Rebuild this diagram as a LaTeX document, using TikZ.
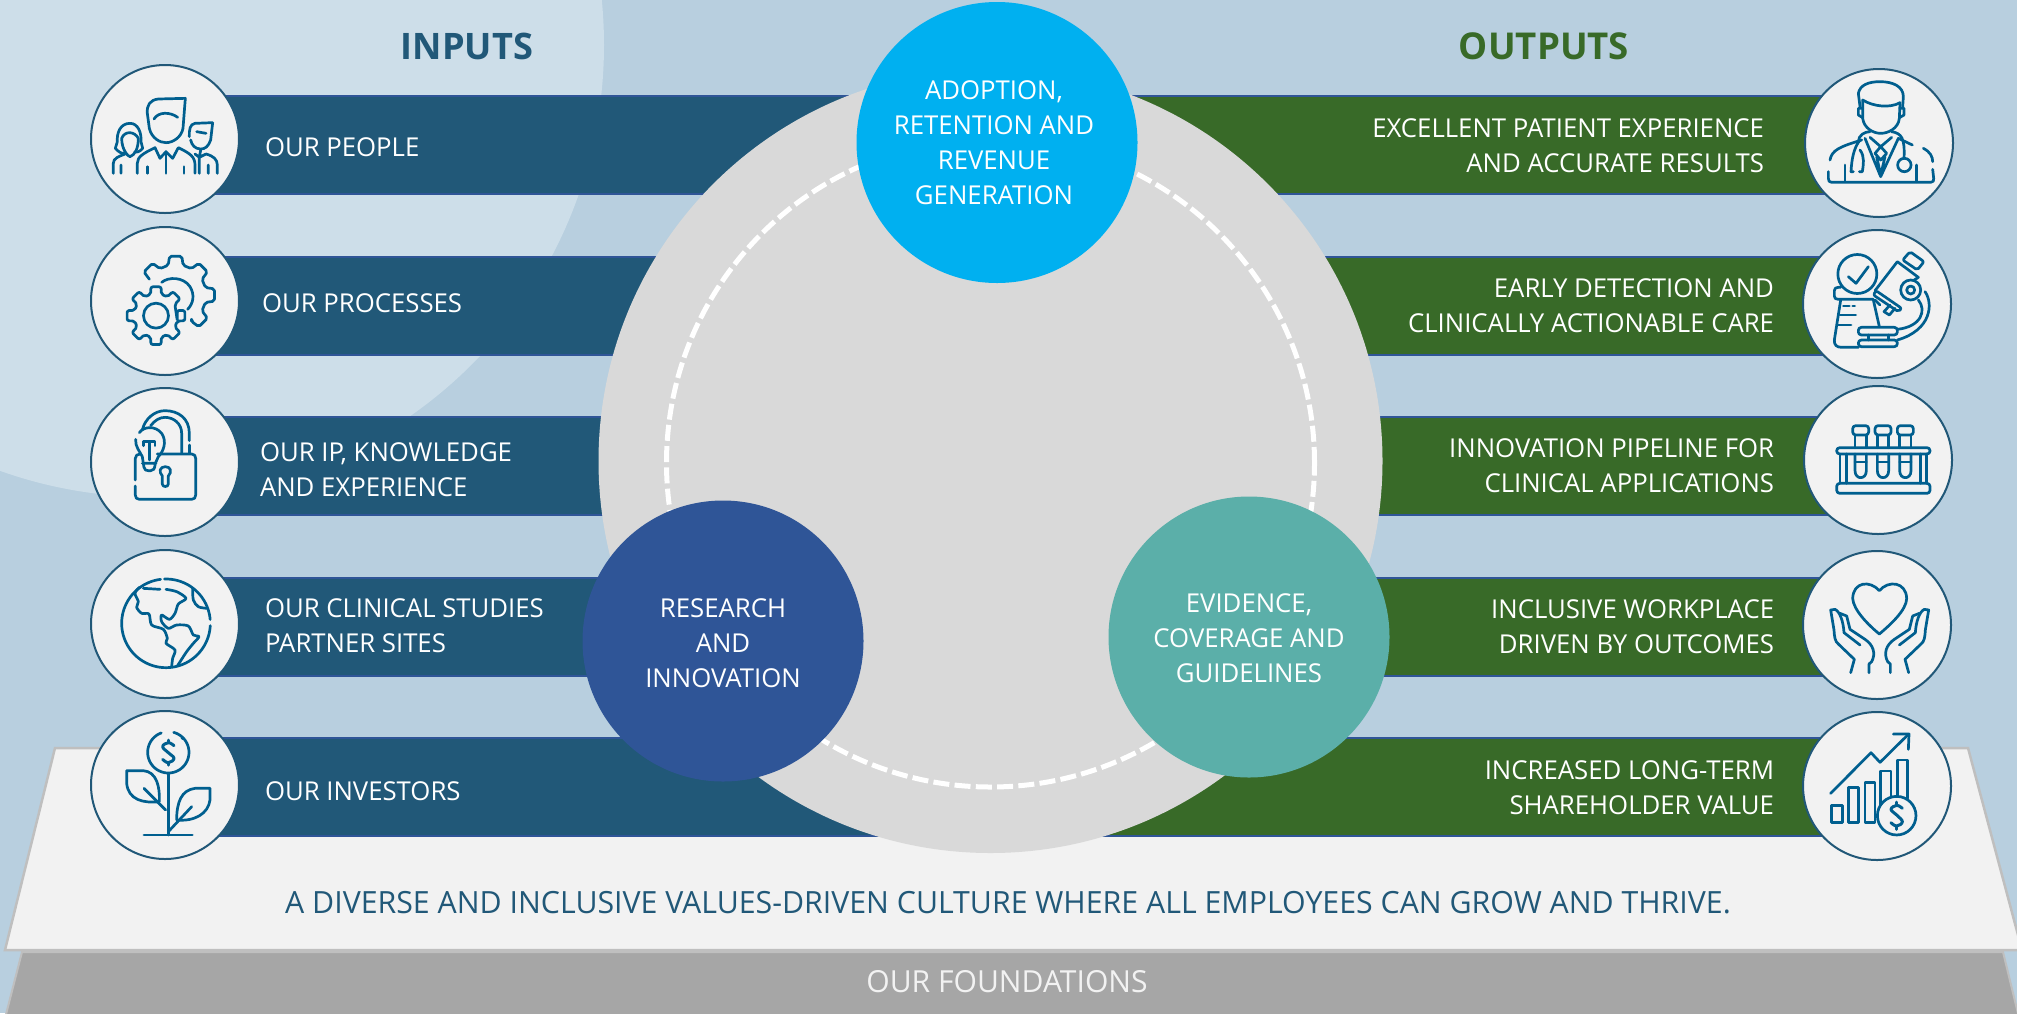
\documentclass[tikz,border=0pt]{standalone}
\usepackage{fontspec}
\setmainfont{Open Sans}[FakeStretch=0.99]
\definecolor{bgblue}{HTML}{B8CFDF}
\definecolor{bglight}{HTML}{CDDEE9}
\definecolor{barblue}{HTML}{215878}
\definecolor{bargreen}{HTML}{386A28}
\definecolor{barline}{HTML}{2F5597}
\definecolor{icon}{HTML}{005F8F}
\definecolor{panel}{HTML}{F2F2F2}
\definecolor{edge}{HTML}{BFBFBF}
\definecolor{grayfoot}{HTML}{A6A6A6}
\definecolor{core}{HTML}{D9D9D9}
\definecolor{adopt}{HTML}{00B0F0}
\definecolor{research}{HTML}{2F5597}
\definecolor{evid}{HTML}{5BAFA9}
\tikzset{
  zm/.style n args={2}{shift={(#1,#2)},x=0.33333pt,y=-0.33333pt},
  ico/.style={draw=icon,line width=2.7pt,line cap=round,line join=round},
  barL/.style={rectangle,inner sep=0pt,outer sep=0pt,anchor=west,fill=barblue,draw=barline,line width=2pt,minimum width=815pt,minimum height=98pt},
  barR/.style={rectangle,inner sep=0pt,outer sep=0pt,anchor=east,fill=bargreen,draw=barline,line width=2pt,minimum width=880pt,minimum height=98pt},
  iconcirc/.style={circle,inner sep=0pt,outer sep=0pt,fill=panel,draw=barblue,line width=2pt,minimum size=148pt},
  hub/.style={circle,inner sep=0pt,outer sep=0pt,minimum size=281pt},
  lbl/.style={inner sep=0pt,outer sep=0pt,text=white,font=\mainfs},
  lblC/.style={lbl,align=center},
  lblL/.style={lbl,anchor=west,align=left},
  lblR/.style={lbl,anchor=east,align=right},
}
\newcommand{\mainfs}{\fontsize{26}{35}\selectfont}
\newcommand{\handshape}{%
  \draw[ico] (182,878)--(193,838)--(145,792) .. controls (135,785) and (133,770) .. (132,750) -- (122,690) -- (135,688) .. controls (150,695) and (160,725) .. (162,758) -- (210,795);
  \draw[ico] (150,700)--(170,708)--(180,748)--(225,778) .. controls (250,795) and (258,820) .. (245,845)--(237,852)--(237,878);
}
\begin{document}
\begin{tikzpicture}[x=1pt,y=-1pt]
\useasboundingbox (0,0) rectangle (2017,1013);
\clip (0,0) rectangle (2017,1013);
\fill[bgblue] (0,0) rectangle (2017,1013);
\fill[bglight] (152,45) circle[radius=452pt];

% foundations
\draw[fill=grayfoot,draw=edge,line width=2pt] (22,952)--(2003,952)--(2022,1030)--(2,1030)--cycle;
\draw[fill=panel,draw=edge,line width=2.5pt] (55,748)--(1968,748)--(2022,950)--(5,950)--cycle;

% bars
\node[barL] (bl1) at (165,145) {};
\node[barL] (bl2) at (165,305.5) {};
\node[barL] (bl3) at (165,465.5) {};
\node[barL] (bl4) at (165,626.5) {};
\node[barL] (bl5) at (165,786.5) {};
\node[barR] (br1) at (1877,145) {};
\node[barR] (br2) at (1877,305.5) {};
\node[barR] (br3) at (1877,466) {};
\node[barR] (br4) at (1877,626.5) {};
\node[barR] (br5) at (1877,786.5) {};

% core
\node[circle,fill=core,inner sep=0pt,minimum size=784pt] (core) at (990.5,461) {};
\draw[white,line width=5pt,dash pattern=on 16pt off 5.3pt] (990.5,463) circle[radius=324pt];
\node[hub,fill=adopt] (hubA) at (997,142.5) {};
\node[hub,fill=research] (hubR) at (723,641) {};
\node[hub,fill=evid] (hubE) at (1249,637) {};
\node[lblC] (tA) at (994,143) {ADOPTION,\\RETENTION AND\\REVENUE\\GENERATION};
\node[lblC] (tR) at (723,643) {RESEARCH\\AND\\INNOVATION};
\node[lblC] (tE) at (1249,638) {EVIDENCE,\\COVERAGE AND\\GUIDELINES};

% icon circles
\node[iconcirc] (cl1) at (165,139) {};
\node[iconcirc] (cl2) at (165,301) {};
\node[iconcirc] (cl3) at (165,462) {};
\node[iconcirc] (cl4) at (165,624) {};
\node[iconcirc] (cl5) at (165,785) {};
\node[iconcirc] (cr1) at (1879,143) {};
\node[iconcirc] (cr2) at (1877,304) {};
\node[iconcirc] (cr3) at (1878,460) {};
\node[iconcirc] (cr4) at (1877,625) {};
\node[iconcirc] (cr5) at (1877,786) {};

% people
\begin{scope}[zm={80}{50}]
\draw[ico] (316,145) -- (235,147) .. controls (210,150) and (200,165) .. (202,190) -- (208,235) .. controls (215,265) and (240,278) .. (258,278) .. controls (280,278) and (305,260) .. (309,235) -- cycle;
\draw[ico] (222,207) .. controls (235,185) and (270,185) .. (293,202);
\draw[ico] (172,370)--(172,340) .. controls (172,320) and (190,310) .. (225,293) -- (240,325) -- (258,305) -- (278,325) -- (295,293) .. controls (330,310) and (345,320) .. (345,345)--(345,370);
\draw[ico] (258,305)--(258,370) (202,350)--(202,370) (312,350)--(312,370);
\draw[ico] (135,310) .. controls (125,312) and (115,305) .. (106,295) -- (112,275) .. controls (110,250) and (120,220) .. (150,220) .. controls (175,220) and (185,250) .. (183,275) -- (188,295) .. controls (180,305) and (170,308) .. (165,305);
\draw[ico] (125,265) .. controls (125,300) and (145,320) .. (150,320) .. controls (165,315) and (175,295) .. (175,265) .. controls (165,245) and (135,240) .. (125,265);
\draw[ico] (100,370)--(100,340) .. controls (100,325) and (115,320) .. (135,312) (123,345)--(123,370);
\draw[ico] (398,218) -- (345,220) .. controls (330,222) and (327,240) .. (328,260) (398,218)--(392,270) .. controls (385,290) and (375,297) .. (362,297) .. controls (345,297) and (335,285) .. (332,270);
\draw[ico] (350,245)--(378,250);
\draw[ico] (345,312)--(358,322)--(362,300) (358,322)--(378,312) .. controls (400,318) and (412,328) .. (412,345)--(412,370) (358,322)--(358,370) (385,345)--(385,370);
\end{scope}

% gears
\begin{scope}[zm={80}{50}]
\begin{scope}[shift={(287,735)}]
\draw[ico,rounded corners=2pt] (59:92) \foreach \a in {45,0,-45,-90,-135} { -- (\a+14:92) -- (\a+9:118) -- (\a-9:118) -- (\a-14:92) };
\end{scope}
\draw[ico] (245,697) .. controls (265,680) and (310,680) .. (330,710) .. controls (345,735) and (340,760) .. (323,778);
\begin{scope}[shift={(228,797)}]
\draw[ico,rounded corners=2pt,fill=panel] (14:66) \foreach \a in {0,45,...,315} { -- (\a-14:66) -- (\a-10:88) -- (\a+10:88) -- (\a+14:66) } -- cycle;
\draw[ico] (0,0) circle[radius=12.5pt];
\end{scope}
\end{scope}

% lock
\begin{scope}[zm={80}{380}]
\draw[ico] (232,222)--(335,222) .. controls (343,222) and (347,227) .. (347,235)--(347,345) .. controls (347,353) and (343,358) .. (335,358)--(178,358) .. controls (170,358) and (166,353) .. (166,345)--(166,318);
\draw[ico] (166,300)--(166,235) .. controls (166,227) and (172,222) .. (180,222);
\draw[ico] (328,182)--(328,160) .. controls (328,115) and (295,92) .. (255,92) .. controls (225,92) and (195,115) .. (187,150);
\draw[ico] (305,218)--(305,160) .. controls (305,130) and (280,112) .. (255,112) .. controls (240,112) and (225,120) .. (212,137);
\draw[ico] (328,195)--(328,218);
\draw[ico] (178,158) .. controls (190,140) and (225,135) .. (245,160) .. controls (262,185) and (250,215) .. (235,230) -- (226,250);
\draw[ico] (167,178) .. controls (165,200) and (180,215) .. (187,230) -- (190,250);
\draw[ico] (187,250)--(228,250) (190,250)--(192,262) .. controls (194,270) and (198,272) .. (205,272) -- (212,272) .. controls (220,272) and (224,268) .. (226,250);
\draw[ico] (208,240)--(208,185) (190,197)--(190,185)--(225,185)--(225,197);
\draw[ico] (247,288) .. controls (235,275) and (240,260) .. (256,260) .. controls (272,260) and (277,275) .. (265,288) -- (265,312) .. controls (265,322) and (247,322) .. (247,312) -- cycle;
\end{scope}

% globe
\begin{scope}[zm={80}{380}]
\draw[ico] plot[domain=3:263,samples=70] ({258+133*cos(\x)},{730+133*sin(\x)});
\draw[ico] plot[domain=-92:-5,samples=30] ({258+133*cos(\x)},{730+133*sin(\x)});
\draw[ico] plot[smooth,tension=.5] coordinates {(178,622)(165,640)(175,665)(170,682)(185,700)(207,702)(215,735)(250,748)(262,775)(258,790)(285,810)(278,835)(275,860)};
\draw[ico] plot[smooth,tension=.5] coordinates {(258,628)(290,635)(318,655)(295,672)(285,700)(268,718)(245,705)(245,725)(265,745)(290,735)(325,738)(340,765)(357,770)(340,790)(320,815)(292,858)};
\draw[ico] (190,625)--(240,628);
\draw[ico] plot[smooth,tension=.5] coordinates {(338,625)(340,660)(355,680)(380,685)};
\end{scope}

% plant
\begin{scope}[zm={0}{700}]
\draw[ico] plot[domain=-75:250,samples=60] ({505+62*cos(\x+0)},{157+62*sin(\x+0)});
\fill[icon] (547,115) circle[radius=1.6pt];
\draw[ico,line width=3pt] plot[smooth,tension=.7] coordinates {(522,137)(505,128)(488,140)(505,158)(522,175)(505,188)(488,178)};
\draw[ico,line width=3pt] (505,120)--(505,128) (505,188)--(505,195);
\draw[ico] (505,222)--(505,405) (432,405)--(577,405);
\draw[ico] (380,212) -- (430,212) .. controls (470,215) and (480,260) .. (478,305) .. controls (430,310) and (385,300) .. (380,250) -- cycle;
\draw[ico] (432,265)--(497,330);
\draw[ico] (630,265)--(585,265) .. controls (545,270) and (530,305) .. (530,360) .. controls (585,365) and (625,340) .. (630,300) -- cycle;
\draw[ico] (505,395)--(575,320);
\end{scope}

% doctor
\begin{scope}[zm={1790}{50}]
\draw[ico] (210,170)--(205,130) .. controls (210,105) and (235,95) .. (270,95) .. controls (310,95) and (340,110) .. (340,140)--(338,170);
\draw[ico] (218,150) .. controls (250,170) and (300,175) .. (330,158);
\draw[ico] (218,150)--(218,205) .. controls (222,235) and (250,250) .. (272,250) .. controls (295,250) and (325,235) .. (328,205)--(330,158);
\draw[ico] (218,175)--(205,175)--(205,195)--(218,203) (330,175)--(342,175)--(342,195)--(328,203);
\draw[ico] (120,330) .. controls (125,300) and (150,290) .. (215,270);
\draw[ico] (400,295) .. controls (420,305) and (428,320) .. (428,335);
\draw[ico] (115,365)--(115,385) .. controls (115,393) and (118,397) .. (125,397)--(422,397) .. controls (430,397) and (432,392) .. (431,385)--(428,358);
\draw[ico] (165,345)--(165,395) (380,345)--(380,395);
\draw[ico] (225,265)--(272,380)--(325,265) (240,262)--(272,290)--(305,262) (272,290)--(255,310)--(272,330)--(290,310)--cycle (260,320)--(272,375)--(285,320);
\draw[ico] (205,275) .. controls (205,255) and (225,245) .. (240,245);
\draw[ico] (305,245) .. controls (335,250) and (345,265) .. (342,325);
\draw[ico] (343,345) circle[radius=6.7pt];
\draw[ico] (325,265)--(367,285);
\draw[ico] (210,270) .. controls (190,295) and (185,330) .. (183,365)--(190,365);
\draw[ico] (210,300) .. controls (225,320) and (220,345) .. (217,365)--(208,365);
\end{scope}

% microscope
\begin{scope}[zm={1790}{50}]
\draw[ico] (202,672) circle[radius=19.5pt];
\draw[ico] (175,680)--(198,700)--(235,650);
\draw[ico] (250,748)--(145,748) .. controls (137,748) and (133,745) .. (133,738)--(133,722) .. controls (133,715) and (137,712) .. (145,712)--(152,712);
\draw[ico] (152,750)--(133,870) .. controls (132,885) and (140,892) .. (155,892)--(205,892);
\draw[ico] (250,750)--(268,830);
\draw[ico] (160,768)--(178,768) (188,768)--(194,768) (150,795)--(197,795) (143,825)--(183,825);
\draw[ico,rounded corners=3pt] (205,832) rectangle (322,855);
\draw[ico,rounded corners=3pt] (205,870) rectangle (322,890);
\draw[ico] (235,855)--(235,870) (295,855)--(295,870);
\draw[ico] (255,722)--(322,635)--(385,682)--(365,695);
\draw[ico,rounded corners=2pt] (338,630)--(360,605)--(402,635)--(382,660)--cycle;
\draw[ico,rounded corners=2pt] (258,722)--(335,775)--(325,785)--(250,735)--cycle;
\draw[ico] (255,750)--(270,765) (300,765)--(282,785)--(298,795)--(315,775);
\draw[ico,fill=panel] (362,720) circle[radius=10pt];
\draw[ico] (362,720) circle[radius=4pt];
\draw[ico] (405,725) .. controls (430,760) and (425,840) .. (322,870);
\draw[ico] (385,750) .. controls (410,780) and (395,830) .. (322,838);
\end{scope}

% test tubes
\begin{scope}[zm={1790}{380}]
\draw[ico,rounded corners=3pt] (140,203) rectangle (420,222);
\draw[ico,rounded corners=3pt] (140,310) rectangle (420,340);
\draw[ico] (150,222)--(150,310) (170,222)--(170,310) (392,222)--(392,310) (410,222)--(410,310);
\foreach \t in {212,279,346} {
  \draw[ico,rounded corners=3pt] (\t-24,137) rectangle (\t+24,165);
  \draw[ico] (\t-17,165)--(\t-17,203) (\t+17,165)--(\t+17,203);
  \draw[ico] (\t-17,222)--(\t-17,272) .. controls (\t-17,300) and (\t+17,300) .. (\t+17,272)--(\t+17,222);
  \draw[ico] (\t-17,246)--(\t+17,246);
}
\end{scope}

% hands and heart
\begin{scope}[zm={1790}{380}]
\draw[ico] (268,632) .. controls (240,600) and (190,605) .. (188,655) .. controls (190,690) and (235,735) .. (268,762) .. controls (300,735) and (350,690) .. (350,655) .. controls (348,605) and (295,600) .. (268,632) -- cycle;
\handshape
\begin{scope}[shift={(538,0)},xscale=-1]
\handshape
\end{scope}
\end{scope}

% chart
\begin{scope}[zm={1790}{700}]
\draw[ico] (122,280)--(243,158)--(270,187)--(355,103);
\draw[ico] (310,102)--(357,102)--(355,148);
\draw[ico] (125,317) rectangle (157,367);
\draw[ico] (175,263) rectangle (205,367);
\draw[ico] (225,248) rectangle (255,367);
\draw[ico] (272,325)--(272,213)--(303,213)--(303,292);
\draw[ico] (322,290)--(322,180)--(352,180)--(352,295);
\draw[ico,fill=panel] (320,347) circle[radius=19.3pt];
\draw[ico,line width=3pt] plot[smooth,tension=.7] coordinates {(337,325)(320,316)(303,328)(320,345)(337,365)(320,378)(303,368)};
\draw[ico,line width=3pt] (320,306)--(320,316) (320,378)--(320,388);
\end{scope}

% labels
\node[inner sep=0pt,text=barblue,font=\fontsize{36.5}{40}\selectfont\bfseries] (inputs) at (467,46) {INPUTS};
\node[inner sep=0pt,text=bargreen,font=\fontsize{37}{40}\selectfont\bfseries] (outputs) at (1544,46) {OUTPUTS};
\node[lblL] (t1) at (265,147) {OUR PEOPLE};
\node[lblL] (t2) at (262,303) {OUR PROCESSES};
\node[lblL] (t3) at (260,470) {OUR IP, KNOWLEDGE\\AND EXPERIENCE};
\node[lblL] (t4) at (265,626) {OUR CLINICAL STUDIES\\PARTNER SITES};
\node[lblL] (t5) at (265,791) {OUR INVESTORS};
\node[lblR] (o1) at (1764,145.5) {EXCELLENT PATIENT EXPERIENCE\\AND ACCURATE RESULTS};
\node[lblR] (o2) at (1774,305.5) {EARLY DETECTION AND\\CLINICALLY ACTIONABLE CARE};
\node[lblR] (o3) at (1774,466) {INNOVATION PIPELINE FOR\\CLINICAL APPLICATIONS};
\node[lblR] (o4) at (1774,627) {INCLUSIVE WORKPLACE\\DRIVEN BY OUTCOMES};
\node[lblR] (o5) at (1774,788) {INCREASED LONG-TERM\\SHAREHOLDER VALUE};
\node[inner sep=0pt,text=barblue,font=\fontsize{30.6}{35}\selectfont] (culture) at (1008,903) {A DIVERSE AND INCLUSIVE VALUES-DRIVEN CULTURE WHERE ALL EMPLOYEES CAN GROW AND THRIVE.};
\node[inner sep=0pt,text=panel,font=\fontsize{30.4}{35}\selectfont] (found) at (1007,982) {OUR FOUNDATIONS};
\end{tikzpicture}
\end{document}
